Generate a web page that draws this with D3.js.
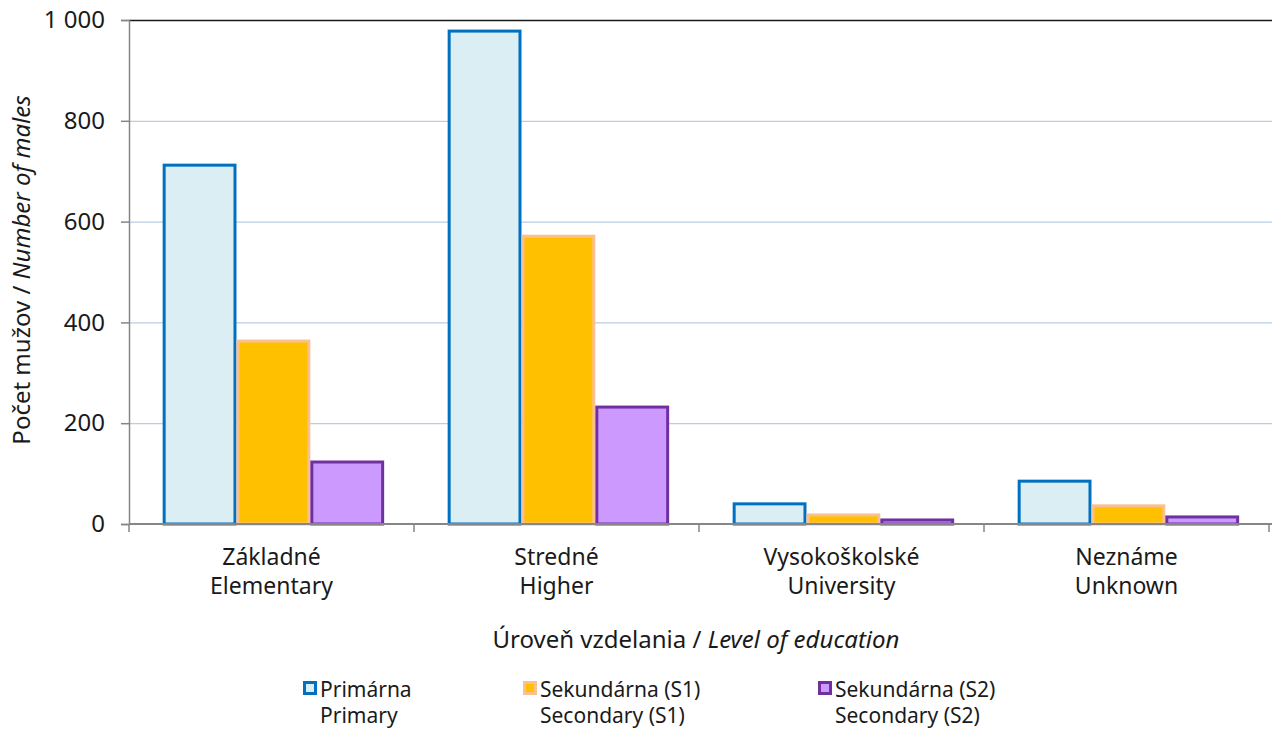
<!DOCTYPE html>
<html>
<head>
<meta charset="utf-8">
<script src="https://cdn.jsdelivr.net/npm/d3@7"></script>
<style>
  body { margin: 0; background: #fff; }
  text { font-family: "Noto Sans", sans-serif; fill: #1a1a1a; }
</style>
</head>
<body>
<div id="content"></div>
<script>
// Data.
var categories = ["Základné", "Stredné", "Vysokoškolské", "Neznáme"];
var categoriesEn = ["Elementary", "Higher", "University", "Unknown"];
var seriesNames = ["Primárna", "Sekundárna (S1)", "Sekundárna (S2)"];
var seriesNamesEn = ["Primary", "Secondary (S1)", "Secondary (S2)"];
var primary = [712, 978, 40, 85];
var secondary1 = [363, 571, 18, 36];
var secondary2 = [123, 232, 8, 14];
var yTicks = [0, 200, 400, 600, 800, 1000];
var yTickLabels = ["0", "200", "400", "600", "800", "1 000"];

var seriesValues = [primary, secondary1, secondary2];
var fills = ["#DAEEF3", "#FFC000", "#CC99FF"];
var strokes = ["#0070C0", "#FAC090", "#7030A0"];

// SVG dimensions.
var W = 1272, H = 729;
var margin = {left : 129, right : 3, top : 20, bottom : 205};
var width = W - margin.left - margin.right;
var height = H - margin.top - margin.bottom;

var svg = d3.select('#content')
              .append('svg')
              .attr('width', W)
              .attr('height', H);

var g = svg.append('g').attr('transform', 'translate(' + margin.left + ',' + margin.top + ')');

// Scales.
var x0 = d3.scaleBand().domain(categories).range([0, width]).paddingInner(0).paddingOuter(0);
var x1 = d3.scaleBand().domain(d3.range(3)).range([0, x0.bandwidth()])
             .paddingOuter(0.43).paddingInner(0).align(0.53);
var y = d3.scaleLinear().domain([0, 1000]).range([height, 0]);

// Gridlines.
g.append('g').selectAll('line')
    .data(yTicks.filter(function(d) { return d > 0; }))
    .enter().append('line')
    .attr('x1', 0).attr('x2', width + margin.right)
    .attr('y1', function(d) { return y(d) + 0.5; })
    .attr('y2', function(d) { return y(d) + 0.5; })
    .attr('stroke', function(d) { return d === 1000 ? '#1a1a1a' : '#B9CDE5'; })
    .attr('stroke-width', function(d) { return d === 1000 ? 1.5 : 1.3; });

// Bars.
var bars = [];
categories.forEach(function(c, i) {
  seriesValues.forEach(function(s, j) {
    bars.push({cat : c, s : j, v : s[i]});
  });
});

g.append('g').selectAll('rect')
    .data(bars)
    .enter().append('rect')
    .attr('x', function(d) { return x0(d.cat) + x1(d.s) + 1.5; })
    .attr('y', function(d) { return y(d.v); })
    .attr('width', x1.bandwidth() - 3)
    .attr('height', function(d) { return Math.max(0, height - y(d.v)); })
    .attr('fill', function(d) { return fills[d.s]; })
    .attr('stroke', function(d) { return strokes[d.s]; })
    .attr('stroke-width', 3);

// Y axis.
var yAxis = g.append('g')
    .call(d3.axisLeft(y).tickValues(yTicks).tickSize(8).tickPadding(16)
          .tickFormat(function(d, i) { return yTickLabels[i]; }));
yAxis.selectAll('text').style('font-size', '24px').attr('fill', '#1a1a1a');
yAxis.selectAll('line, path').attr('stroke', '#868686').attr('stroke-width', 1.5);

// X axis.
var xAxisG = g.append('g').attr('transform', 'translate(0,' + height + ')');
xAxisG.append('line')
    .attr('x1', 0).attr('x2', width + margin.right)
    .attr('stroke', '#868686').attr('stroke-width', 2);
xAxisG.selectAll('.tick')
    .data(categories.map(function(c) { return x0(c); }).concat([width]))
    .enter().append('line')
    .attr('x1', function(d) { return d; }).attr('x2', function(d) { return d; })
    .attr('y1', 0).attr('y2', 8)
    .attr('stroke', '#868686').attr('stroke-width', 1.5);

var catLabels = xAxisG.selectAll('.cat')
    .data(categories)
    .enter().append('text')
    .attr('text-anchor', 'middle')
    .style('font-size', '23px')
    .attr('x', function(d) { return x0(d) + x0.bandwidth() / 2; });
catLabels.append('tspan')
    .attr('x', function(d) { return x0(d) + x0.bandwidth() / 2; })
    .attr('y', 41)
    .text(function(d) { return d; });
catLabels.append('tspan')
    .attr('x', function(d) { return x0(d) + x0.bandwidth() / 2; })
    .attr('y', 70)
    .text(function(d, i) { return categoriesEn[i]; });

// Axis titles.
var xt = svg.append('text')
    .attr('x', 696)
    .attr('y', 648)
    .attr('text-anchor', 'middle')
    .style('font-size', '24px');
xt.append('tspan').text('Úroveň vzdelania / ');
xt.append('tspan').style('font-style', 'italic').text('Level of education');

var yt = svg.append('text')
    .attr('transform', 'translate(30,' + 270 + ') rotate(-90)')
    .attr('text-anchor', 'middle')
    .style('font-size', '24px');
yt.append('tspan').text('Počet mužov / ');
yt.append('tspan').style('font-style', 'italic').text('Number of males');

// Legend.
var legendX = [303, 523, 818];
var legend = svg.append('g').selectAll('g')
    .data(seriesNames)
    .enter().append('g')
    .attr('transform', function(d, i) { return 'translate(' + legendX[i] + ',0)'; });
legend.append('rect')
    .attr('x', 1.5).attr('y', 682.5)
    .attr('width', 11).attr('height', 11)
    .attr('fill', function(d, i) { return fills[i]; })
    .attr('stroke', function(d, i) { return strokes[i]; })
    .attr('stroke-width', 3);
legend.append('text')
    .attr('x', 17).attr('y', 697)
    .style('font-size', '21px')
    .text(function(d) { return d; });
legend.append('text')
    .attr('x', 17).attr('y', 723)
    .style('font-size', '21px')
    .text(function(d, i) { return seriesNamesEn[i]; });
</script>
</body>
</html>
